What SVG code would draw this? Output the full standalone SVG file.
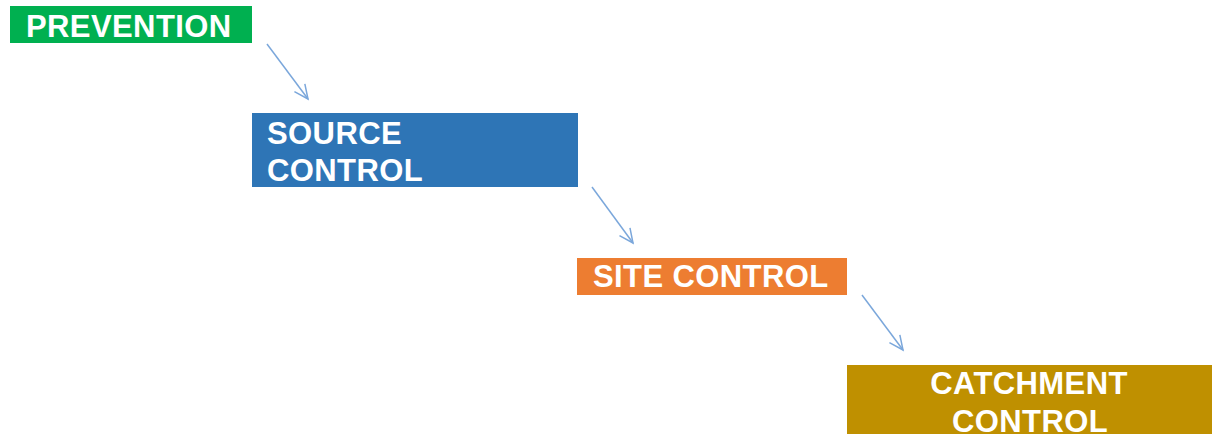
<svg xmlns="http://www.w3.org/2000/svg" width="1212" height="434" viewBox="0 0 1212 434">
<style>
.lbl{font-family:"Liberation Sans",Arial,sans-serif;font-weight:bold;font-size:31px;letter-spacing:0.4px;fill:#FFFFFF}
.conn{stroke:#7BA7DB;stroke-width:1.5;fill:none;marker-end:url(#ah)}
</style>
<defs>
<marker id="ah" markerUnits="userSpaceOnUse" markerWidth="20" markerHeight="20" viewBox="-15 -10 20 20" refX="0" refY="0" orient="auto">
<path d="M-14,-6.5 L0,0 L-14,6.5" fill="none" stroke="#7BA7DB" stroke-width="1.5"/>
</marker>
</defs>
<rect width="1212" height="434" fill="#FFFFFF"/>
<g id="prevention">
<rect x="10" y="6" width="242" height="37" fill="#00B050"/>
<text class="lbl" x="26" y="37">PREVENTION</text>
</g>
<g id="source-control">
<rect x="252" y="113" width="326" height="74" fill="#2E75B6"/>
<text class="lbl" x="267" y="144">SOURCE</text>
<text class="lbl" x="267" y="181">CONTROL</text>
</g>
<g id="site-control">
<rect x="577" y="258" width="270" height="37" fill="#ED7D31"/>
<text class="lbl" x="593" y="287">SITE CONTROL</text>
</g>
<g id="catchment-control">
<rect x="847" y="365" width="365" height="69" fill="#BF9000"/>
<text class="lbl" x="1029" y="394" text-anchor="middle">CATCHMENT</text>
<text class="lbl" x="1030" y="432" text-anchor="middle">CONTROL</text>
</g>
<g id="connectors">
<line class="conn" x1="267" y1="44" x2="308" y2="99"/>
<line class="conn" x1="592" y1="187" x2="633" y2="243"/>
<line class="conn" x1="862" y1="295" x2="903" y2="350"/>
</g>
</svg>
